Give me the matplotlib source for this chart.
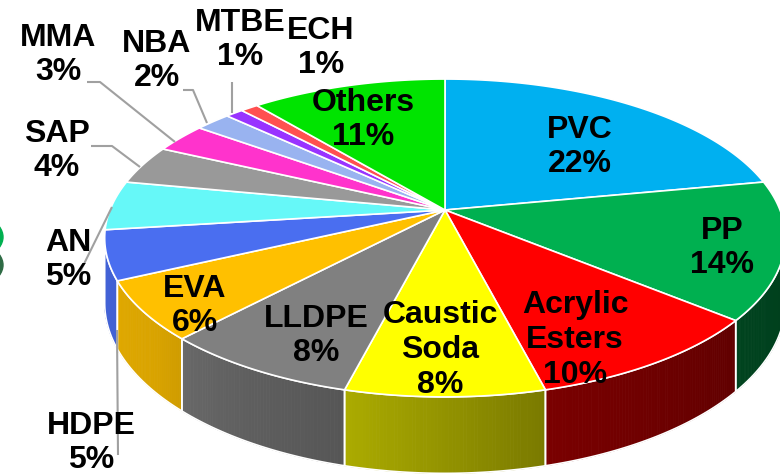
import numpy as np
import matplotlib
matplotlib.use('Agg')
import matplotlib.pyplot as plt
from matplotlib.patches import Polygon, Ellipse
from matplotlib.colors import to_rgb

# data
labels = ['PVC', 'PP', 'Acrylic\nEsters', 'Caustic\nSoda', 'LLDPE', 'EVA', 'HDPE',
          'AN', 'SAP', 'MMA', 'NBA', 'MTBE', 'ECH', 'Others']
shares = [22, 14, 10, 8, 8, 6, 5, 5, 4, 3, 2, 1, 1, 11]
colors = ['#00b0f0', '#00b050', '#ff0000', '#ffff00', '#808080', '#ffc000', '#4a6ef0',
          '#66f8f8', '#999999', '#ff33cc', '#99b3f0', '#9933ff', '#ff5050', '#00e400']

# label layout (pixel coords), leader lines for the small ones
label_pos = [(580, 147), (722, 248), (575, 340), (440, 350), (316, 336), (195, 306),
             (91, 443), (68, 260), (57, 151), (58, 55), (157, 61), (240, 40), (321, 48),
             (363, 120)]
leaders = {
    'HDPE': [(118, 455), (117, 330)],
    'AN': [(80, 272), (112, 207)],
    'SAP': [(91, 146), (112, 146), (140, 167)],
    'MMA': [(87, 82), (100, 82), (175, 142)],
    'NBA': [(183, 90), (193, 90), (207, 123)],
    'MTBE': [(232, 82), (232, 113)],
}

# perspective pie geometry (pixels)
CX, CY = 445, 210
A, B, K = 335, 154, 0.176
H = 63
# silhouette of the rim under this perspective
SIL = np.degrees(np.arccos(-K))


def proj(theta, r=1.0, down=0.0):
    t = np.radians(theta)
    u = r * np.sin(t)
    v = r * np.cos(t)
    w = 1 + K * v
    return CX + A * u / w, CY - B * v / w + down / w


def shade(theta):
    # light comes from the left
    return np.interp(theta, [90, 130, 166, 194, 210, 230, 270],
                     [0.35, 0.38, 0.48, 0.67, 0.74, 0.85, 0.92])


fig = plt.figure(figsize=(7.8, 4.75), dpi=100)
ax = fig.add_axes([0, 0, 1, 1])
ax.set_xlim(0, 780)
ax.set_ylim(475, 0)
ax.axis('off')

# sliver of a neighbouring pie on the far left
ax.add_patch(Ellipse((-200, 265), 406, 110, color='#2e6b45', zorder=1))
ax.add_patch(Ellipse((-200, 237), 406, 110, color='#00b050', zorder=1))

bounds = np.concatenate([[0], np.cumsum(shares)]) / sum(shares) * 360

# side walls (visible front part only)
for i, c in enumerate(colors):
    a0, a1 = max(bounds[i], SIL), min(bounds[i + 1], 360 - SIL)
    if a1 <= a0:
        continue
    angs = np.linspace(a0, a1, max(int((a1 - a0) * 2), 2))
    base = np.array(to_rgb(c))
    for s, e in zip(angs[:-1], angs[1:]):
        xs0, ys0 = proj(s)
        xs1, ys1 = proj(e)
        xb0, yb0 = proj(s, down=H)
        xb1, yb1 = proj(e, down=H)
        col = base * shade((s + e) / 2)
        ax.add_patch(Polygon([(xs0, ys0), (xs1, ys1), (xb1, yb1), (xb0, yb0)],
                             closed=True, facecolor=col, edgecolor=col, lw=0.6, zorder=2))
    xt, yt = proj(angs)
    xb, yb = proj(angs[::-1], down=H)
    ax.add_patch(Polygon(np.column_stack([np.r_[xt, xb], np.r_[yt, yb]]), closed=True,
                         facecolor='none', edgecolor='white', lw=1.2, zorder=3))

# top faces
for i, c in enumerate(colors):
    angs = np.linspace(bounds[i], bounds[i + 1], max(int((bounds[i + 1] - bounds[i]) * 2), 2))
    xt, yt = proj(angs)
    pts = [(CX, CY)] + list(zip(xt, yt))
    ax.add_patch(Polygon(pts, closed=True, facecolor=c, edgecolor='white', lw=1.2, zorder=4))

# leader lines
for name, pts in leaders.items():
    pts = np.array(pts)
    ax.plot(pts[:, 0], pts[:, 1], color='#a0a0a0', lw=1.5, zorder=5, solid_capstyle='butt')

# labels
for name, val, (x, y) in zip(labels, shares, label_pos):
    ax.text(x, y, f'{name}\n{val}%', ha='center', va='center', fontsize=23,
            fontweight='bold', family=['Liberation Sans', 'DejaVu Sans'],
            linespacing=1.2, color='black', zorder=6)

fig.savefig('out.png', dpi=100)
